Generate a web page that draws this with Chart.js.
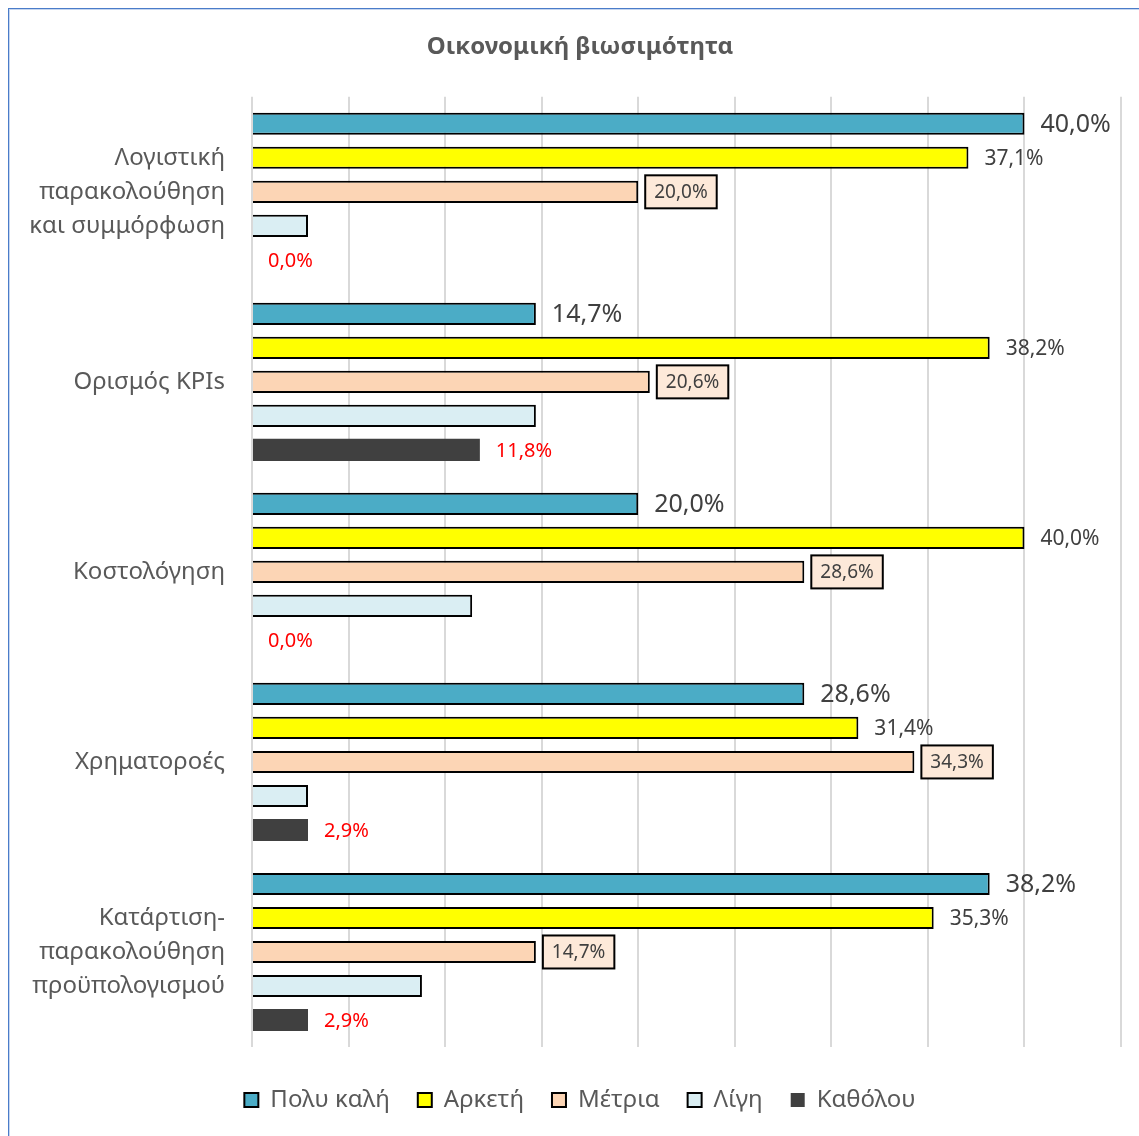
<!DOCTYPE html>
<html>
<head>
<meta charset="utf-8">
<script src="https://cdn.jsdelivr.net/npm/chart.js@4.4.1/dist/chart.umd.min.js"></script>
<style>
  html, body { margin: 0; padding: 0; background: #fff; overflow: hidden; }
  .frame {
    position: absolute; left: 8px; top: 8px; width: 1200px; height: 1200px;
    border: 1px solid #4a7cc9; box-shadow: inset 1px 1px 0 #c6d6ef;
  }
  .wrap { position: absolute; left: 0; top: 0; width: 1139px; height: 1136px; }
</style>
</head>
<body>
<div class="frame"></div>
<div class="wrap"><canvas id="chart" width="1139" height="1136"></canvas></div>
<script>
const categories = [
    ['Λογιστική', 'παρακολούθηση', 'και συμμόρφωση'],
    'Ορισμός KPIs',
    'Κοστολόγηση',
    'Χρηματοροές',
    ['Κατάρτιση-', 'παρακολούθηση', 'προϋπολογισμού']
];
const seriesNames = ['Πολυ καλή', 'Αρκετή', 'Μέτρια', 'Λίγη', 'Καθόλου'];
const polyKali = [40.0, 14.7, 20.0, 28.6, 38.2];
const arketi = [37.1, 38.2, 40.0, 31.4, 35.3];
const metria = [20.0, 20.6, 28.6, 34.3, 14.7];
const ligi = [2.9, 14.7, 11.4, 2.9, 8.8];
const katholou = [0.0, 11.8, 0.0, 2.9, 2.9];

const FONT = "'Noto Sans', 'DejaVu Sans', sans-serif";
const fills = ['#4bacc6', '#ffff00', '#fcd5b5', '#daeef3', '#404040'];
const borders = ['#000000', '#000000', '#000000', '#000000', '#404040'];

// per-series value label look (Λίγη has none)
const labelStyles = [
    { size: 25, color: '#404040', offset: 16 },
    { size: 21, color: '#404040', offset: 16 },
    { size: 19, color: '#404040', offset: 7, box: true },
    null,
    { size: 20, color: '#ff0000', offset: 16 }
];

const fmt = v => v.toFixed(1).replace('.', ',') + '%';

const valueLabels = {
    id: 'valueLabels',
    afterDatasetsDraw(chart) {
        const ctx = chart.ctx;
        chart.data.datasets.forEach((ds, i) => {
            const st = labelStyles[i];
            if (!st) return;
            chart.getDatasetMeta(i).data.forEach((bar, j) => {
                const text = fmt(ds.data[j]);
                ctx.save();
                ctx.font = `${st.size}px ${FONT}`;
                ctx.textBaseline = 'middle';
                let x = bar.x + st.offset;
                const y = bar.y;
                if (st.box) {
                    const w = ctx.measureText(text).width + 18;
                    const h = 33;
                    ctx.fillStyle = '#fde9d9';
                    ctx.fillRect(x, y - h / 2, w, h);
                    ctx.lineWidth = 2;
                    ctx.strokeStyle = '#000';
                    ctx.strokeRect(x, y - h / 2, w, h);
                    x += 9;
                }
                ctx.fillStyle = st.color;
                ctx.fillText(text, x, y + 1);
                ctx.restore();
            });
        });
    }
};

// long category names run past the padded left edge; widen the y axis clip box
const labelSpill = {
    id: 'labelSpill',
    afterLayout(chart) {
        chart.scales.y.left = 0;
    }
};

const seriesData = [polyKali, arketi, metria, ligi, katholou];

new Chart(document.getElementById('chart'), {
    type: 'bar',
    data: {
        labels: categories,
        datasets: seriesData.map((d, i) => ({
            label: seriesNames[i],
            data: d,
            backgroundColor: fills[i],
            borderColor: borders[i],
            borderWidth: i === 4 ? 0 : 2,
            categoryPercentage: 0.895,
            barPercentage: 0.65
        }))
    },
    options: {
        indexAxis: 'y',
        responsive: false,
        animation: false,
        layout: { padding: { left: 39, right: 18, top: 0, bottom: 14 } },
        plugins: {
            title: {
                display: true,
                text: 'Οικονομική βιωσιμότητα',
                color: '#595959',
                font: { family: FONT, size: 24, weight: 'bold' },
                padding: { top: 33, bottom: 35 }
            },
            legend: {
                position: 'bottom',
                // empty title only used as a spacer above the items
                title: { display: true, text: '', font: { size: 13, lineHeight: 1 }, padding: 0 },
                labels: {
                    color: '#595959',
                    font: { family: FONT, size: 24 },
                    boxWidth: 14,
                    boxHeight: 14,
                    padding: 28
                }
            },
            tooltip: { enabled: false }
        },
        scales: {
            x: {
                min: 0,
                max: 45,
                ticks: { display: false, stepSize: 5 },
                grid: { color: '#d9d9d9', lineWidth: 2, drawTicks: false },
                border: { display: false }
            },
            y: {
                grid: { display: false, drawTicks: false },
                border: { display: false },
                ticks: {
                    color: '#595959',
                    font: { family: FONT, size: 24, lineHeight: 1.42 },
                    padding: 27
                },
                afterFit: (scale) => { scale.width = 213; }
            }
        }
    },
    plugins: [valueLabels, labelSpill]
});
</script>
</body>
</html>
